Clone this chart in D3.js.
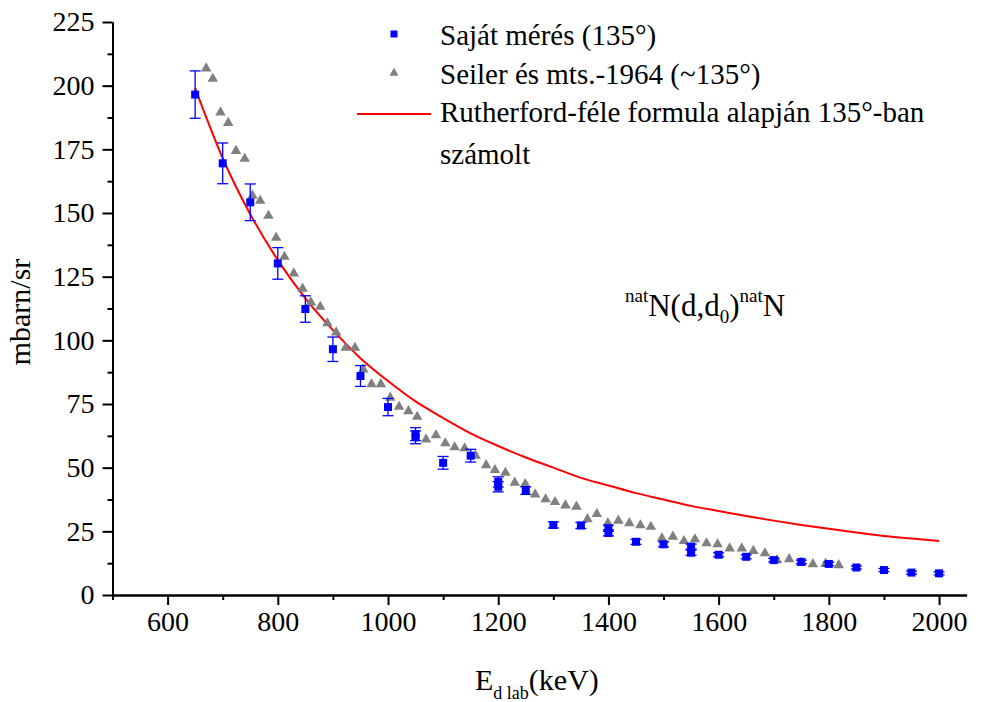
<!DOCTYPE html>
<html>
<head>
<meta charset="utf-8">
<script src="https://cdn.jsdelivr.net/npm/d3@7"></script>
<style>
  body { margin: 0; background: #fff; }
  svg text { font-family: "Liberation Serif", Tinos, "Times New Roman", Times, "DejaVu Serif", serif; fill: #000; }
</style>
</head>
<body>
<div id="chart"></div>
<script>
// own measurement (135 deg): energy, value, error
var ownE = [650, 700, 750, 800, 850, 900, 950, 1000, 1050, 1050, 1100, 1150, 1200, 1200, 1250,
  1300, 1350, 1400, 1400, 1450, 1500, 1550, 1550, 1600, 1650, 1700, 1750, 1800, 1850, 1900, 1950, 2000]
var ownV = [196.5, 169.5, 154.2, 130.2, 112.3, 96.5, 86, 73.8, 63.2, 61.9, 51.9, 54.7, 44.4, 42.5, 41,
  27.5, 27.3, 26.2, 24.4, 20.9, 19.9, 19, 16.6, 15.8, 15, 13.7, 13, 12.2, 10.8, 9.8, 8.8, 8.5]
var ownErr = [9.3, 8, 7.2, 6.2, 5.2, 4.8, 4.1, 3.4, 2.5, 2.5, 2.5, 2.5, 2, 2, 1.5,
  1.2, 1.2, 1.2, 1.2, 1, 1, 1, 1, 0.8, 0.8, 0.7, 0.7, 0.7, 0.6, 0.6, 0.6, 0.6]

// Seiler et al. 1964
var seilerE = [670, 682, 696, 710, 724, 740, 754, 768, 783, 797, 812, 829, 845, 860, 877, 890, 906,
  923, 940, 955, 970, 987, 1004, 1020, 1037, 1053, 1069, 1087, 1104, 1121, 1139, 1159, 1178, 1194,
  1213, 1230, 1249, 1267, 1286, 1303, 1322, 1342, 1362, 1379, 1399, 1418, 1438, 1458, 1477, 1497,
  1517, 1537, 1557, 1578, 1598, 1620, 1642, 1663, 1684, 1706, 1728, 1750, 1771, 1794, 1818]
var seilerV = [206.8, 202.7, 189.5, 185.4, 174.4, 171.3, 156.8, 154.8, 148.9, 140.3, 132.8, 126.3,
  120.3, 114.9, 113.2, 106.7, 103.1, 97.1, 97.1, 88.6, 82.8, 82.8, 77.5, 73.9, 72.2, 70, 61.1, 62.7,
  59.6, 58, 57.6, 54.7, 51, 49.1, 48, 44.1, 43.6, 39.5, 37.6, 36.5, 35.2, 34.7, 29.8, 31.8, 28.2,
  29.2, 28.2, 27.4, 26.8, 22.3, 22.9, 21.2, 21.9, 20.3, 19.9, 18.3, 18.3, 17.3, 16.4, 13.7, 14.1,
  12.7, 12.1, 12.2, 11.7]

// Rutherford curve
var rutherE = [650, 700, 750, 800, 850, 900, 950, 1000, 1050, 1100, 1150, 1200, 1250, 1300, 1350,
  1400, 1450, 1500, 1550, 1600, 1650, 1700, 1750, 1800, 1850, 1900, 1950, 2000]
var rutherV = [199, 171.5, 149.5, 131.5, 116.5, 104, 93, 84, 76, 69.5, 63.5, 58.5, 54, 50, 46,
  43, 40, 37.5, 35, 33, 31, 29.2, 27.5, 26, 24.5, 23.2, 22.2, 21.2]

var xMajor = [600, 800, 1000, 1200, 1400, 1600, 1800, 2000]
var xMinor = [500, 700, 900, 1100, 1300, 1500, 1700, 1900]
var yMajor = [0, 25, 50, 75, 100, 125, 150, 175, 200, 225]
var yMinor = [12.5, 37.5, 62.5, 87.5, 112.5, 137.5, 162.5, 187.5, 212.5]

var legendLabels = ["Saját mérés (135°)", "Seiler és mts.-1964 (~135°)",
  "Rutherford-féle formula alapján 135°-ban", "számolt"]

var width = 984, height = 702
var serif = '"Liberation Serif", Tinos, "Times New Roman", Times, "DejaVu Serif", serif'

var svg = d3.select("#chart").append("svg")
  .attr("width", width)
  .attr("height", height)
  .attr("font-family", serif)

var x = d3.scaleLinear().domain([500, 2050]).range([112.5, 966.6])
var y = d3.scaleLinear().domain([0, 225]).range([595, 22])

// axes
var gx = svg.append("g").attr("transform", "translate(0," + y(0) + ")")
gx.call(d3.axisBottom(x).tickValues(xMinor).tickSize(5).tickSizeOuter(0).tickFormat(""))
gx.append("g").call(d3.axisBottom(x).tickValues(xMajor).tickSize(10).tickSizeOuter(0)
  .tickPadding(6).tickFormat(d3.format("d")))

var gy = svg.append("g").attr("transform", "translate(" + x(500) + ",0)")
gy.call(d3.axisLeft(y).tickValues(yMinor).tickSize(5).tickSizeOuter(0).tickFormat(""))
gy.append("g").call(d3.axisLeft(y).tickValues(yMajor).tickSize(10).tickSizeOuter(0)
  .tickPadding(8).tickFormat(d3.format("d")))

svg.selectAll("g").attr("font-family", serif)
svg.selectAll(".domain").attr("stroke", "#000").attr("stroke-width", 2)
svg.selectAll(".tick line").attr("stroke", "#000").attr("stroke-width", 2)
svg.selectAll(".tick text").attr("font-size", 28)

// axis titles
svg.append("text")
  .attr("transform", "translate(30,312) rotate(-90)")
  .attr("text-anchor", "middle")
  .attr("font-size", 30)
  .text("mbarn/sr")

var xt = svg.append("text")
  .attr("x", 475).attr("y", 690)
  .attr("font-size", 30)
xt.append("tspan").text("E")
xt.append("tspan").attr("font-size", 18).attr("dy", 9).text("d lab")
xt.append("tspan").attr("dy", -9).text("(keV)")

// Rutherford line
var line = d3.line().curve(d3.curveMonotoneX)
  .x(function(d, i) { return x(rutherE[i]) }).y(function(d) { return y(d) })
svg.append("path")
  .datum(rutherV)
  .attr("d", line)
  .attr("fill", "none")
  .attr("stroke", "#ff0000")
  .attr("stroke-width", 2)

// Seiler triangles
var tri = d3.symbol().type(d3.symbolTriangle).size(48)
svg.append("g").selectAll("path")
  .data(seilerV)
  .join("path")
  .attr("d", tri)
  .attr("transform", function(d, i) { return "translate(" + x(seilerE[i]) + "," + y(d) + ")" })
  .attr("fill", "#808080")

// own measurement with error bars
var own = svg.append("g")
var eb = own.selectAll("g.err")
  .data(ownV)
  .join("g")
  .attr("class", "err")
  .attr("stroke", "#0000ff")
  .attr("stroke-width", 1.3)
eb.append("line")
  .attr("x1", function(d, i) { return x(ownE[i]) })
  .attr("x2", function(d, i) { return x(ownE[i]) })
  .attr("y1", function(d, i) { return y(d + ownErr[i]) })
  .attr("y2", function(d, i) { return y(d - ownErr[i]) })
eb.append("line")
  .attr("x1", function(d, i) { return x(ownE[i]) - 5.5 })
  .attr("x2", function(d, i) { return x(ownE[i]) + 5.5 })
  .attr("y1", function(d, i) { return y(d + ownErr[i]) })
  .attr("y2", function(d, i) { return y(d + ownErr[i]) })
eb.append("line")
  .attr("x1", function(d, i) { return x(ownE[i]) - 5.5 })
  .attr("x2", function(d, i) { return x(ownE[i]) + 5.5 })
  .attr("y1", function(d, i) { return y(d - ownErr[i]) })
  .attr("y2", function(d, i) { return y(d - ownErr[i]) })

own.selectAll("rect")
  .data(ownV)
  .join("rect")
  .attr("x", function(d, i) { return x(ownE[i]) - 4 })
  .attr("y", function(d) { return y(d) - 4 })
  .attr("width", 8)
  .attr("height", 8)
  .attr("fill", "#0000ff")

// legend
var lg = svg.append("g")
lg.append("rect").attr("x", 390.5).attr("y", 30.5).attr("width", 7).attr("height", 7).attr("fill", "#0000ff")
lg.append("path").attr("d", d3.symbol().type(d3.symbolTriangle).size(36))
  .attr("transform", "translate(394,73)").attr("fill", "#808080")
lg.append("line").attr("x1", 357).attr("x2", 431).attr("y1", 114).attr("y2", 114)
  .attr("stroke", "#ff0000").attr("stroke-width", 2)
var legY = [45, 84, 122, 164]
lg.selectAll("text")
  .data(legendLabels)
  .join("text")
  .attr("x", 440)
  .attr("y", function(d, i) { return legY[i] })
  .attr("font-size", 29)
  .text(function(d) { return d })

// reaction label
var rl = svg.append("text").attr("x", 625).attr("y", 316).attr("font-size", 31)
rl.append("tspan").attr("font-size", 19).attr("dy", -14).text("nat")
rl.append("tspan").attr("dy", 14).text("N(d,d")
rl.append("tspan").attr("font-size", 19).attr("dy", 7).text("0")
rl.append("tspan").attr("dy", -7).text(")")
rl.append("tspan").attr("font-size", 19).attr("dy", -14).text("nat")
rl.append("tspan").attr("dy", 14).text("N")
</script>
</body>
</html>
